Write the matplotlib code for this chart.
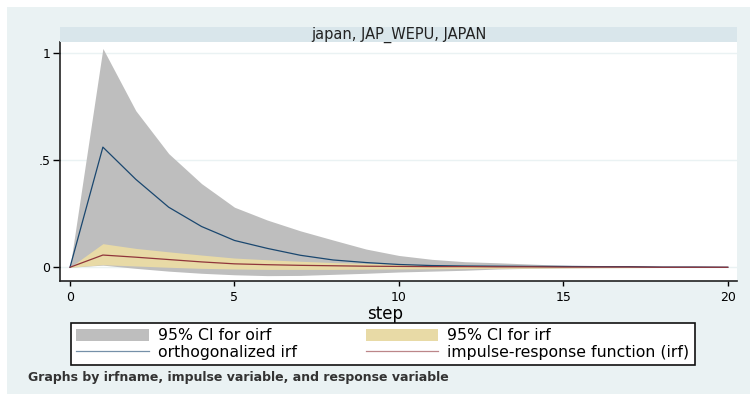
import numpy as np
import matplotlib
matplotlib.use("Agg")
import matplotlib.pyplot as plt
from matplotlib.patches import Rectangle, Patch
from matplotlib.lines import Line2D

# impulse-response values, steps 0..20
step = np.arange(0, 21)
oirf = [0, 0.56, 0.41, 0.28, 0.19, 0.125, 0.088, 0.056, 0.034, 0.022, 0.013,
        0.008, 0.006, 0.005, 0.004, 0.004, 0.003, 0.003, 0.001, 0.001, 0.0]
oirf_lo = [0, 0.01, -0.005, -0.018, -0.028, -0.035, -0.039, -0.038, -0.033, -0.028, -0.022,
           -0.018, -0.014, -0.008, -0.005, -0.003, -0.002, -0.001, -0.001, 0, 0]
oirf_hi = [0, 1.02, 0.73, 0.53, 0.39, 0.28, 0.22, 0.17, 0.127, 0.085, 0.055,
           0.037, 0.026, 0.021, 0.015, 0.009, 0.006, 0.004, 0.002, 0.001, 0.001]
irf = [0, 0.057, 0.047, 0.036, 0.025, 0.016, 0.012, 0.009, 0.007, 0.005, 0.004,
       0.003, 0.003, 0.002, 0.002, 0.001, 0.001, 0.001, 0.0, 0.0, 0.0]
irf_lo = [0, 0.012, 0.006, 0.0, -0.005, -0.008, -0.01, -0.01, -0.01, -0.009, -0.008,
          -0.007, -0.006, -0.005, -0.004, -0.003, -0.002, -0.002, -0.001, -0.001, 0]
irf_hi = [0, 0.11, 0.088, 0.072, 0.057, 0.043, 0.035, 0.028, 0.022, 0.018, 0.014,
          0.011, 0.008, 0.006, 0.005, 0.004, 0.003, 0.002, 0.002, 0.001, 0.001]

panel_title = "japan, JAP_WEPU, JAPAN"
legend_labels = ["95% CI for oirf", "orthogonalized irf", "95% CI for irf",
                 "impulse-response function (irf)"]
note = "Graphs by irfname, impulse variable, and response variable"

bg = "#EAF2F3"
strip = "#D9E6EB"
gray = "#BEBEBE"
sand = "#E8DAA6"
navy = "#1A476F"
maroon = "#90353B"

W, H = 750, 394
fig = plt.figure(figsize=(7.5, 3.94), dpi=100)
fig.patch.set_facecolor("white")

# graph region background
fig.add_artist(Rectangle((7 / W, 0), 1 - 7 / W, 1 - 7 / H, transform=fig.transFigure,
                         facecolor=bg, edgecolor="none", zorder=0))

ax = fig.add_axes([60 / W, 1 - 281 / H, 677 / W, 239 / H])
ax.set_facecolor("white")

ax.fill_between(step, oirf_lo, oirf_hi, color=gray, lw=0, zorder=2)
ax.fill_between(step, irf_lo, irf_hi, color=sand, lw=0, zorder=3)
ax.plot(step, oirf, color=navy, lw=0.9, zorder=4)
ax.plot(step, irf, color=maroon, lw=0.9, zorder=5)

ax.set_xlim(-0.304, 20.28)
ax.set_ylim(-0.064, 1.05)
ax.set_xticks([0, 5, 10, 15, 20])
ax.set_yticks([0, 0.5, 1])
ax.set_yticklabels(["0", ".5", "1"])
ax.yaxis.grid(True, color=bg, lw=1)
ax.set_axisbelow(True)
for s in ["top", "right"]:
    ax.spines[s].set_visible(False)
for s in ["left", "bottom"]:
    ax.spines[s].set_linewidth(1.2)
    ax.spines[s].set_color("#222222")
ax.tick_params(axis="y", length=5, width=1, pad=2, labelsize=9)
ax.tick_params(axis="x", length=3.5, width=1, pad=4, labelsize=9)

# panel strip
fig.add_artist(Rectangle((60 / W, 1 - 42 / H), 677 / W, 15 / H, transform=fig.transFigure,
                         facecolor=strip, edgecolor="none", zorder=1))
fig.text(398.5 / W, 1 - 34.5 / H, panel_title, ha="center", va="center", fontsize=10.5,
         color="#222222")

fig.text(385 / W, 1 - 314 / H, "step", ha="center", va="center", fontsize=12)

handles = [Patch(facecolor=gray, edgecolor="none"),
           Line2D([], [], color=navy, lw=0.9, alpha=0.6),
           Patch(facecolor=sand, edgecolor="none"),
           Line2D([], [], color=maroon, lw=0.9, alpha=0.6)]
leg = fig.legend(handles, legend_labels, ncol=2, loc="center",
                 bbox_to_anchor=(71 / W, 1 - 365 / H, 624 / W, 42 / H), mode="expand",
                 fontsize=11.3, handlelength=4.6, handleheight=0.8, handletextpad=0.6,
                 labelspacing=0.1, borderpad=0.35, borderaxespad=0, fancybox=False,
                 framealpha=1, edgecolor="#111111")
leg.get_frame().set_linewidth(1.2)

fig.text(28 / W, 1 - 377 / H, note, ha="left", va="center", fontsize=9,
         fontweight="semibold", color="#333333")

fig.savefig("out.png", dpi=100, facecolor=fig.get_facecolor())
